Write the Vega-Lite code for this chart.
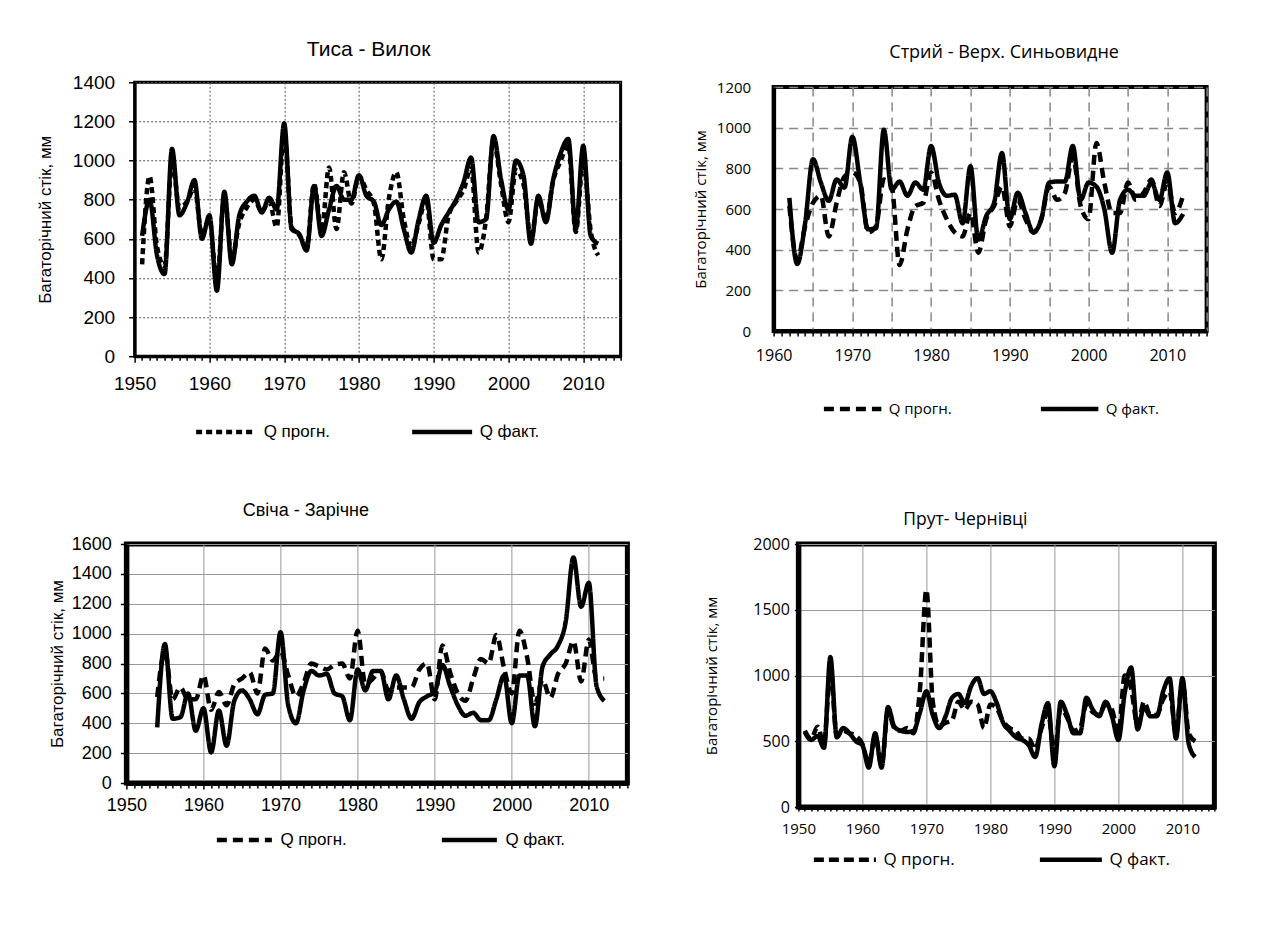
{
"$schema": "https://vega.github.io/schema/vega-lite/v6.json",
"background": "white",
"padding": {"left": 34, "top": 37, "right": 5, "bottom": 5},
"datasets": {
"tysa": [
{"year":1951,"series":"Q прогн.","value":470},{"year":1952,"series":"Q прогн.","value":920},{"year":1953,"series":"Q прогн.","value":560},{"year":1954,"series":"Q прогн.","value":460},{"year":1955,"series":"Q прогн.","value":1000},{"year":1956,"series":"Q прогн.","value":760},{"year":1957,"series":"Q прогн.","value":790},{"year":1958,"series":"Q прогн.","value":860},{"year":1959,"series":"Q прогн.","value":620},{"year":1960,"series":"Q прогн.","value":700},
{"year":1961,"series":"Q прогн.","value":380},{"year":1962,"series":"Q прогн.","value":820},{"year":1963,"series":"Q прогн.","value":500},{"year":1964,"series":"Q прогн.","value":680},{"year":1965,"series":"Q прогн.","value":760},{"year":1966,"series":"Q прогн.","value":800},{"year":1967,"series":"Q прогн.","value":740},{"year":1968,"series":"Q прогн.","value":790},{"year":1969,"series":"Q прогн.","value":660},{"year":1970,"series":"Q прогн.","value":1150},
{"year":1971,"series":"Q прогн.","value":660},{"year":1972,"series":"Q прогн.","value":620},{"year":1973,"series":"Q прогн.","value":560},{"year":1974,"series":"Q прогн.","value":880},{"year":1975,"series":"Q прогн.","value":640},{"year":1976,"series":"Q прогн.","value":965},{"year":1977,"series":"Q прогн.","value":650},{"year":1978,"series":"Q прогн.","value":940},{"year":1979,"series":"Q прогн.","value":780},{"year":1980,"series":"Q прогн.","value":920},
{"year":1981,"series":"Q прогн.","value":850},{"year":1982,"series":"Q прогн.","value":780},{"year":1983,"series":"Q прогн.","value":495},{"year":1984,"series":"Q прогн.","value":805},{"year":1985,"series":"Q прогн.","value":940},{"year":1986,"series":"Q прогн.","value":700},{"year":1987,"series":"Q прогн.","value":560},{"year":1988,"series":"Q прогн.","value":680},{"year":1989,"series":"Q прогн.","value":800},{"year":1990,"series":"Q прогн.","value":495},
{"year":1991,"series":"Q прогн.","value":495},{"year":1992,"series":"Q прогн.","value":720},{"year":1993,"series":"Q прогн.","value":790},{"year":1994,"series":"Q прогн.","value":850},{"year":1995,"series":"Q прогн.","value":960},{"year":1996,"series":"Q прогн.","value":530},{"year":1997,"series":"Q прогн.","value":700},{"year":1998,"series":"Q прогн.","value":1100},{"year":1999,"series":"Q прогн.","value":880},{"year":2000,"series":"Q прогн.","value":685},
{"year":2001,"series":"Q прогн.","value":950},{"year":2002,"series":"Q прогн.","value":880},{"year":2003,"series":"Q прогн.","value":600},{"year":2004,"series":"Q прогн.","value":800},{"year":2005,"series":"Q прогн.","value":700},{"year":2006,"series":"Q прогн.","value":900},{"year":2007,"series":"Q прогн.","value":1000},{"year":2008,"series":"Q прогн.","value":1080},{"year":2009,"series":"Q прогн.","value":635},{"year":2010,"series":"Q прогн.","value":1000},
{"year":2011,"series":"Q прогн.","value":640},{"year":2012,"series":"Q прогн.","value":515},
{"year":1951,"series":"Q факт.","value":615},{"year":1952,"series":"Q факт.","value":800},{"year":1953,"series":"Q факт.","value":515},{"year":1954,"series":"Q факт.","value":420},{"year":1955,"series":"Q факт.","value":1060},{"year":1956,"series":"Q факт.","value":720},{"year":1957,"series":"Q факт.","value":785},{"year":1958,"series":"Q факт.","value":900},{"year":1959,"series":"Q факт.","value":600},{"year":1960,"series":"Q факт.","value":720},
{"year":1961,"series":"Q факт.","value":335},{"year":1962,"series":"Q факт.","value":840},{"year":1963,"series":"Q факт.","value":470},{"year":1964,"series":"Q факт.","value":720},{"year":1965,"series":"Q факт.","value":790},{"year":1966,"series":"Q факт.","value":820},{"year":1967,"series":"Q факт.","value":735},{"year":1968,"series":"Q факт.","value":810},{"year":1969,"series":"Q факт.","value":750},{"year":1970,"series":"Q факт.","value":1190},
{"year":1971,"series":"Q факт.","value":650},{"year":1972,"series":"Q факт.","value":625},{"year":1973,"series":"Q факт.","value":540},{"year":1974,"series":"Q факт.","value":870},{"year":1975,"series":"Q факт.","value":615},{"year":1976,"series":"Q факт.","value":750},{"year":1977,"series":"Q факт.","value":870},{"year":1978,"series":"Q факт.","value":800},{"year":1979,"series":"Q факт.","value":800},{"year":1980,"series":"Q факт.","value":925},
{"year":1981,"series":"Q факт.","value":820},{"year":1982,"series":"Q факт.","value":790},{"year":1983,"series":"Q факт.","value":670},{"year":1984,"series":"Q факт.","value":750},{"year":1985,"series":"Q факт.","value":790},{"year":1986,"series":"Q факт.","value":650},{"year":1987,"series":"Q факт.","value":530},{"year":1988,"series":"Q факт.","value":700},{"year":1989,"series":"Q факт.","value":820},{"year":1990,"series":"Q факт.","value":580},
{"year":1991,"series":"Q факт.","value":670},{"year":1992,"series":"Q факт.","value":735},{"year":1993,"series":"Q факт.","value":800},{"year":1994,"series":"Q факт.","value":890},{"year":1995,"series":"Q факт.","value":1015},{"year":1996,"series":"Q факт.","value":685},{"year":1997,"series":"Q факт.","value":700},{"year":1998,"series":"Q факт.","value":1125},{"year":1999,"series":"Q факт.","value":905},{"year":2000,"series":"Q факт.","value":750},
{"year":2001,"series":"Q факт.","value":1000},{"year":2002,"series":"Q факт.","value":925},{"year":2003,"series":"Q факт.","value":575},{"year":2004,"series":"Q факт.","value":820},{"year":2005,"series":"Q факт.","value":685},{"year":2006,"series":"Q факт.","value":905},{"year":2007,"series":"Q факт.","value":1040},{"year":2008,"series":"Q факт.","value":1110},{"year":2009,"series":"Q факт.","value":650},{"year":2010,"series":"Q факт.","value":1075},
{"year":2011,"series":"Q факт.","value":615},{"year":2012,"series":"Q факт.","value":575}
],
"stryi": [
{"year":1962,"series":"Q прогн.","value":615},{"year":1963,"series":"Q прогн.","value":350},{"year":1964,"series":"Q прогн.","value":515},{"year":1965,"series":"Q прогн.","value":630},{"year":1966,"series":"Q прогн.","value":665},{"year":1967,"series":"Q прогн.","value":465},{"year":1968,"series":"Q прогн.","value":630},{"year":1969,"series":"Q прогн.","value":760},{"year":1970,"series":"Q прогн.","value":780},
{"year":1971,"series":"Q прогн.","value":730},{"year":1972,"series":"Q прогн.","value":485},{"year":1973,"series":"Q прогн.","value":515},{"year":1974,"series":"Q прогн.","value":745},{"year":1975,"series":"Q прогн.","value":710},{"year":1976,"series":"Q прогн.","value":325},{"year":1977,"series":"Q прогн.","value":500},{"year":1978,"series":"Q прогн.","value":615},{"year":1979,"series":"Q прогн.","value":630},{"year":1980,"series":"Q прогн.","value":780},
{"year":1981,"series":"Q прогн.","value":645},{"year":1982,"series":"Q прогн.","value":550},{"year":1983,"series":"Q прогн.","value":485},{"year":1984,"series":"Q прогн.","value":465},{"year":1985,"series":"Q прогн.","value":580},{"year":1986,"series":"Q прогн.","value":385},{"year":1987,"series":"Q прогн.","value":550},{"year":1988,"series":"Q прогн.","value":615},{"year":1989,"series":"Q прогн.","value":710},{"year":1990,"series":"Q прогн.","value":515},
{"year":1991,"series":"Q прогн.","value":645},{"year":1992,"series":"Q прогн.","value":550},{"year":1993,"series":"Q прогн.","value":485},{"year":1994,"series":"Q прогн.","value":550},{"year":1995,"series":"Q прогн.","value":710},{"year":1996,"series":"Q прогн.","value":645},{"year":1997,"series":"Q прогн.","value":680},{"year":1998,"series":"Q прогн.","value":860},{"year":1999,"series":"Q прогн.","value":615},{"year":2000,"series":"Q прогн.","value":550},
{"year":2001,"series":"Q прогн.","value":925},{"year":2002,"series":"Q прогн.","value":730},{"year":2003,"series":"Q прогн.","value":580},{"year":2004,"series":"Q прогн.","value":580},{"year":2005,"series":"Q прогн.","value":730},{"year":2006,"series":"Q прогн.","value":645},{"year":2007,"series":"Q прогн.","value":680},{"year":2008,"series":"Q прогн.","value":745},{"year":2009,"series":"Q прогн.","value":615},{"year":2010,"series":"Q прогн.","value":730},
{"year":2011,"series":"Q прогн.","value":580},{"year":2012,"series":"Q прогн.","value":665},
{"year":1962,"series":"Q факт.","value":655},{"year":1963,"series":"Q факт.","value":330},{"year":1964,"series":"Q факт.","value":530},{"year":1965,"series":"Q факт.","value":845},{"year":1966,"series":"Q факт.","value":730},{"year":1967,"series":"Q факт.","value":640},{"year":1968,"series":"Q факт.","value":745},{"year":1969,"series":"Q факт.","value":705},{"year":1970,"series":"Q факт.","value":955},
{"year":1971,"series":"Q факт.","value":730},{"year":1972,"series":"Q факт.","value":500},{"year":1973,"series":"Q факт.","value":505},{"year":1974,"series":"Q факт.","value":990},{"year":1975,"series":"Q факт.","value":695},{"year":1976,"series":"Q факт.","value":735},{"year":1977,"series":"Q факт.","value":665},{"year":1978,"series":"Q факт.","value":730},{"year":1979,"series":"Q факт.","value":695},{"year":1980,"series":"Q факт.","value":910},
{"year":1981,"series":"Q факт.","value":730},{"year":1982,"series":"Q факт.","value":665},{"year":1983,"series":"Q факт.","value":670},{"year":1984,"series":"Q факт.","value":530},{"year":1985,"series":"Q факт.","value":810},{"year":1986,"series":"Q факт.","value":450},{"year":1987,"series":"Q факт.","value":565},{"year":1988,"series":"Q факт.","value":630},{"year":1989,"series":"Q факт.","value":875},{"year":1990,"series":"Q факт.","value":550},
{"year":1991,"series":"Q факт.","value":680},{"year":1992,"series":"Q факт.","value":580},{"year":1993,"series":"Q факт.","value":485},{"year":1994,"series":"Q факт.","value":550},{"year":1995,"series":"Q факт.","value":730},{"year":1996,"series":"Q факт.","value":735},{"year":1997,"series":"Q факт.","value":735},{"year":1998,"series":"Q факт.","value":910},{"year":1999,"series":"Q факт.","value":645},{"year":2000,"series":"Q факт.","value":730},
{"year":2001,"series":"Q факт.","value":710},{"year":2002,"series":"Q факт.","value":600},{"year":2003,"series":"Q факт.","value":385},{"year":2004,"series":"Q факт.","value":645},{"year":2005,"series":"Q факт.","value":695},{"year":2006,"series":"Q факт.","value":665},{"year":2007,"series":"Q факт.","value":665},{"year":2008,"series":"Q факт.","value":730},{"year":2009,"series":"Q факт.","value":645},{"year":2010,"series":"Q факт.","value":780},
{"year":2011,"series":"Q факт.","value":530},{"year":2012,"series":"Q факт.","value":575}
],
"svicha": [
{"year":1954,"series":"Q прогн.","value":575},{"year":1955,"series":"Q прогн.","value":880},{"year":1956,"series":"Q прогн.","value":560},{"year":1957,"series":"Q прогн.","value":640},{"year":1958,"series":"Q прогн.","value":560},{"year":1959,"series":"Q прогн.","value":560},{"year":1960,"series":"Q прогн.","value":720},
{"year":1961,"series":"Q прогн.","value":490},{"year":1962,"series":"Q прогн.","value":610},{"year":1963,"series":"Q прогн.","value":520},{"year":1964,"series":"Q прогн.","value":660},{"year":1965,"series":"Q прогн.","value":700},{"year":1966,"series":"Q прогн.","value":740},{"year":1967,"series":"Q прогн.","value":600},{"year":1968,"series":"Q прогн.","value":900},{"year":1969,"series":"Q прогн.","value":820},{"year":1970,"series":"Q прогн.","value":880},
{"year":1971,"series":"Q прогн.","value":720},{"year":1972,"series":"Q прогн.","value":580},{"year":1973,"series":"Q прогн.","value":670},{"year":1974,"series":"Q прогн.","value":800},{"year":1975,"series":"Q прогн.","value":780},{"year":1976,"series":"Q прогн.","value":760},{"year":1977,"series":"Q прогн.","value":790},{"year":1978,"series":"Q прогн.","value":800},{"year":1979,"series":"Q прогн.","value":700},{"year":1980,"series":"Q прогн.","value":1020},
{"year":1981,"series":"Q прогн.","value":660},{"year":1982,"series":"Q прогн.","value":700},{"year":1983,"series":"Q прогн.","value":750},{"year":1984,"series":"Q прогн.","value":620},{"year":1985,"series":"Q прогн.","value":640},{"year":1986,"series":"Q прогн.","value":640},{"year":1987,"series":"Q прогн.","value":640},{"year":1988,"series":"Q прогн.","value":760},{"year":1989,"series":"Q прогн.","value":800},{"year":1990,"series":"Q прогн.","value":560},
{"year":1991,"series":"Q прогн.","value":920},{"year":1992,"series":"Q прогн.","value":740},{"year":1993,"series":"Q прогн.","value":600},{"year":1994,"series":"Q прогн.","value":550},{"year":1995,"series":"Q прогн.","value":700},{"year":1996,"series":"Q прогн.","value":830},{"year":1997,"series":"Q прогн.","value":800},{"year":1998,"series":"Q прогн.","value":990},{"year":1999,"series":"Q прогн.","value":770},{"year":2000,"series":"Q прогн.","value":600},
{"year":2001,"series":"Q прогн.","value":1020},{"year":2002,"series":"Q прогн.","value":840},{"year":2003,"series":"Q прогн.","value":530},{"year":2004,"series":"Q прогн.","value":690},{"year":2005,"series":"Q прогн.","value":570},{"year":2006,"series":"Q прогн.","value":730},{"year":2007,"series":"Q прогн.","value":800},{"year":2008,"series":"Q прогн.","value":950},{"year":2009,"series":"Q прогн.","value":680},{"year":2010,"series":"Q прогн.","value":960},
{"year":2011,"series":"Q прогн.","value":700},{"year":2012,"series":"Q прогн.","value":700},
{"year":1954,"series":"Q факт.","value":373},{"year":1955,"series":"Q факт.","value":930},{"year":1956,"series":"Q факт.","value":430},{"year":1957,"series":"Q факт.","value":440},{"year":1958,"series":"Q факт.","value":600},{"year":1959,"series":"Q факт.","value":350},{"year":1960,"series":"Q факт.","value":500},
{"year":1961,"series":"Q факт.","value":205},{"year":1962,"series":"Q факт.","value":485},{"year":1963,"series":"Q факт.","value":250},{"year":1964,"series":"Q факт.","value":550},{"year":1965,"series":"Q факт.","value":620},{"year":1966,"series":"Q факт.","value":560},{"year":1967,"series":"Q факт.","value":460},{"year":1968,"series":"Q факт.","value":590},{"year":1969,"series":"Q факт.","value":600},{"year":1970,"series":"Q факт.","value":1010},
{"year":1971,"series":"Q факт.","value":520},{"year":1972,"series":"Q факт.","value":400},{"year":1973,"series":"Q факт.","value":620},{"year":1974,"series":"Q факт.","value":750},{"year":1975,"series":"Q факт.","value":720},{"year":1976,"series":"Q факт.","value":730},{"year":1977,"series":"Q факт.","value":600},{"year":1978,"series":"Q факт.","value":580},{"year":1979,"series":"Q факт.","value":420},{"year":1980,"series":"Q факт.","value":760},
{"year":1981,"series":"Q факт.","value":620},{"year":1982,"series":"Q факт.","value":750},{"year":1983,"series":"Q факт.","value":750},{"year":1984,"series":"Q факт.","value":560},{"year":1985,"series":"Q факт.","value":720},{"year":1986,"series":"Q факт.","value":560},{"year":1987,"series":"Q факт.","value":430},{"year":1988,"series":"Q факт.","value":540},{"year":1989,"series":"Q факт.","value":580},{"year":1990,"series":"Q факт.","value":610},
{"year":1991,"series":"Q факт.","value":790},{"year":1992,"series":"Q факт.","value":650},{"year":1993,"series":"Q факт.","value":520},{"year":1994,"series":"Q факт.","value":450},{"year":1995,"series":"Q факт.","value":470},{"year":1996,"series":"Q факт.","value":420},{"year":1997,"series":"Q факт.","value":420},{"year":1998,"series":"Q факт.","value":560},{"year":1999,"series":"Q факт.","value":720},{"year":2000,"series":"Q факт.","value":400},
{"year":2001,"series":"Q факт.","value":720},{"year":2002,"series":"Q факт.","value":720},{"year":2003,"series":"Q факт.","value":380},{"year":2004,"series":"Q факт.","value":780},{"year":2005,"series":"Q факт.","value":860},{"year":2006,"series":"Q факт.","value":920},{"year":2007,"series":"Q факт.","value":1080},{"year":2008,"series":"Q факт.","value":1510},{"year":2009,"series":"Q факт.","value":1180},{"year":2010,"series":"Q факт.","value":1340},
{"year":2011,"series":"Q факт.","value":650},{"year":2012,"series":"Q факт.","value":550}
],
"prut": [
{"year":1951,"series":"Q прогн.","value":580},{"year":1952,"series":"Q прогн.","value":520},{"year":1953,"series":"Q прогн.","value":610},{"year":1954,"series":"Q прогн.","value":480},{"year":1955,"series":"Q прогн.","value":1050},{"year":1956,"series":"Q прогн.","value":540},{"year":1957,"series":"Q прогн.","value":580},{"year":1958,"series":"Q прогн.","value":560},{"year":1959,"series":"Q прогн.","value":540},{"year":1960,"series":"Q прогн.","value":480},
{"year":1961,"series":"Q прогн.","value":330},{"year":1962,"series":"Q прогн.","value":540},{"year":1963,"series":"Q прогн.","value":320},{"year":1964,"series":"Q прогн.","value":730},{"year":1965,"series":"Q прогн.","value":600},{"year":1966,"series":"Q прогн.","value":580},{"year":1967,"series":"Q прогн.","value":600},{"year":1968,"series":"Q прогн.","value":560},{"year":1969,"series":"Q прогн.","value":900},{"year":1970,"series":"Q прогн.","value":1650},
{"year":1971,"series":"Q прогн.","value":800},{"year":1972,"series":"Q прогн.","value":620},{"year":1973,"series":"Q прогн.","value":640},{"year":1974,"series":"Q прогн.","value":660},{"year":1975,"series":"Q прогн.","value":800},{"year":1976,"series":"Q прогн.","value":740},{"year":1977,"series":"Q прогн.","value":800},{"year":1978,"series":"Q прогн.","value":780},{"year":1979,"series":"Q прогн.","value":600},{"year":1980,"series":"Q прогн.","value":780},
{"year":1981,"series":"Q прогн.","value":750},{"year":1982,"series":"Q прогн.","value":650},{"year":1983,"series":"Q прогн.","value":600},{"year":1984,"series":"Q прогн.","value":580},{"year":1985,"series":"Q прогн.","value":520},{"year":1986,"series":"Q прогн.","value":520},{"year":1987,"series":"Q прогн.","value":440},{"year":1988,"series":"Q прогн.","value":600},{"year":1989,"series":"Q прогн.","value":720},{"year":1990,"series":"Q прогн.","value":400},
{"year":1991,"series":"Q прогн.","value":760},{"year":1992,"series":"Q прогн.","value":680},{"year":1993,"series":"Q прогн.","value":580},{"year":1994,"series":"Q прогн.","value":600},{"year":1995,"series":"Q прогн.","value":780},{"year":1996,"series":"Q прогн.","value":720},{"year":1997,"series":"Q прогн.","value":700},{"year":1998,"series":"Q прогн.","value":780},{"year":1999,"series":"Q прогн.","value":740},{"year":2000,"series":"Q прогн.","value":560},
{"year":2001,"series":"Q прогн.","value":1000},{"year":2002,"series":"Q прогн.","value":900},{"year":2003,"series":"Q прогн.","value":620},{"year":2004,"series":"Q прогн.","value":800},{"year":2005,"series":"Q прогн.","value":700},{"year":2006,"series":"Q прогн.","value":700},{"year":2007,"series":"Q прогн.","value":820},{"year":2008,"series":"Q прогн.","value":880},{"year":2009,"series":"Q прогн.","value":560},{"year":2010,"series":"Q прогн.","value":960},
{"year":2011,"series":"Q прогн.","value":560},{"year":2012,"series":"Q прогн.","value":500},
{"year":1951,"series":"Q факт.","value":570},{"year":1952,"series":"Q факт.","value":510},{"year":1953,"series":"Q факт.","value":540},{"year":1954,"series":"Q факт.","value":450},{"year":1955,"series":"Q факт.","value":1140},{"year":1956,"series":"Q факт.","value":530},{"year":1957,"series":"Q факт.","value":600},{"year":1958,"series":"Q факт.","value":560},{"year":1959,"series":"Q факт.","value":500},{"year":1960,"series":"Q факт.","value":470},
{"year":1961,"series":"Q факт.","value":300},{"year":1962,"series":"Q факт.","value":560},{"year":1963,"series":"Q факт.","value":300},{"year":1964,"series":"Q факт.","value":760},{"year":1965,"series":"Q факт.","value":610},{"year":1966,"series":"Q факт.","value":580},{"year":1967,"series":"Q факт.","value":570},{"year":1968,"series":"Q факт.","value":580},{"year":1969,"series":"Q факт.","value":720},{"year":1970,"series":"Q факт.","value":880},
{"year":1971,"series":"Q факт.","value":700},{"year":1972,"series":"Q факт.","value":600},{"year":1973,"series":"Q факт.","value":690},{"year":1974,"series":"Q факт.","value":830},{"year":1975,"series":"Q факт.","value":860},{"year":1976,"series":"Q факт.","value":790},{"year":1977,"series":"Q факт.","value":920},{"year":1978,"series":"Q факт.","value":980},{"year":1979,"series":"Q факт.","value":860},{"year":1980,"series":"Q факт.","value":880},
{"year":1981,"series":"Q факт.","value":790},{"year":1982,"series":"Q факт.","value":640},{"year":1983,"series":"Q факт.","value":580},{"year":1984,"series":"Q факт.","value":530},{"year":1985,"series":"Q факт.","value":510},{"year":1986,"series":"Q факт.","value":470},{"year":1987,"series":"Q факт.","value":380},{"year":1988,"series":"Q факт.","value":630},{"year":1989,"series":"Q факт.","value":790},{"year":1990,"series":"Q факт.","value":310},
{"year":1991,"series":"Q факт.","value":800},{"year":1992,"series":"Q факт.","value":700},{"year":1993,"series":"Q факт.","value":560},{"year":1994,"series":"Q факт.","value":560},{"year":1995,"series":"Q факт.","value":830},{"year":1996,"series":"Q факт.","value":740},{"year":1997,"series":"Q факт.","value":690},{"year":1998,"series":"Q факт.","value":800},{"year":1999,"series":"Q факт.","value":690},{"year":2000,"series":"Q факт.","value":510},
{"year":2001,"series":"Q факт.","value":870},{"year":2002,"series":"Q факт.","value":1060},{"year":2003,"series":"Q факт.","value":590},{"year":2004,"series":"Q факт.","value":760},{"year":2005,"series":"Q факт.","value":690},{"year":2006,"series":"Q факт.","value":690},{"year":2007,"series":"Q факт.","value":880},{"year":2008,"series":"Q факт.","value":980},{"year":2009,"series":"Q факт.","value":520},{"year":2010,"series":"Q факт.","value":980},
{"year":2011,"series":"Q факт.","value":480},{"year":2012,"series":"Q факт.","value":380}
]
},
"spacing": 56,
"center": true,
"resolve": {"scale": {"strokeDash": "independent"}, "legend": {"strokeDash": "independent"}},
"vconcat": [
{
"spacing": 67,
"center": true,
"resolve": {"scale": {"strokeDash": "independent"}, "legend": {"strokeDash": "independent"}},
"hconcat": [
{
"width": 486, "height": 274,
"data": {"name": "tysa"},
"title": {"text": "Тиса - Вилок", "font": "Liberation Sans", "fontSize": 21, "offset": 13, "dx": -9},
"view": {"stroke": "black", "strokeWidth": 3},
"mark": {"type": "line", "interpolate": "monotone", "strokeWidth": 4.5, "color": "black"},
"encoding": {
"x": {"field": "year", "type": "quantitative", "scale": {"domain": [1950, 2015], "nice": false, "zero": false},
"axis": {"title": null, "values": [1950,1951,1952,1953,1954,1955,1956,1957,1958,1959,1960,1961,1962,1963,1964,1965,1966,1967,1968,1969,1970,1971,1972,1973,1974,1975,1976,1977,1978,1979,1980,1981,1982,1983,1984,1985,1986,1987,1988,1989,1990,1991,1992,1993,1994,1995,1996,1997,1998,1999,2000,2001,2002,2003,2004,2005,2006,2007,2008,2009,2010,2011,2012,2013,2014,2015],
"format": "d", "labelExpr": "datum.value % 10 === 0 && datum.value < 2015 ? datum.label : ''",
"labelFont": "Liberation Sans", "labelFontSize": 19, "labelPadding": 12, "labelFlush": false, "labelOverlap": false,
"tickSize": {"condition": {"test": "datum.value % 10 === 0", "value": 6}, "value": 4},
"gridOpacity": {"condition": {"test": "datum.value % 10 === 0", "value": 1}, "value": 0},
"gridDash": [2, 2], "gridColor": "#555", "domainWidth": 3}},
"y": {"field": "value", "type": "quantitative", "scale": {"domain": [0, 1400], "nice": false},
"axis": {"title": "Багаторічний стік, мм", "titleFont": "Liberation Sans", "titleFontSize": 17, "titlePadding": 18,
"values": [0,200,400,600,800,1000,1200,1400], "format": "d", "labelFont": "Liberation Sans", "labelFontSize": 19, "labelPadding": 14, "tickSize": 6,
"gridDash": [2, 2], "gridColor": "#555", "domainWidth": 3}},
"strokeDash": {"field": "series", "type": "nominal", "scale": {"domain": ["Q прогн.", "Q факт."], "range": [[6, 4], [1, 0]]},
"legend": {"orient": "none", "legendX": 59, "legendY": 317, "direction": "horizontal", "title": null, "symbolType": "stroke", "symbolSize": 3600, "symbolStrokeWidth": 4.5, "symbolStrokeColor": "black", "labelFont": "Liberation Sans", "labelFontSize": 17, "columnPadding": 72, "labelOffset": 5}}
}
},
{
"width": 433, "height": 244,
"data": {"name": "stryi"},
"title": {"text": "Стрий - Верх. Синьовидне", "font": "Open Sans", "fontSize": 18, "offset": 18, "dx": 14},
"view": {"stroke": "black", "strokeWidth": 4},
"mark": {"type": "line", "interpolate": "monotone", "strokeWidth": 4.5, "color": "black"},
"encoding": {
"x": {"field": "year", "type": "quantitative", "scale": {"domain": [1960, 2015], "nice": false, "zero": false},
"axis": {"title": null, "values": [1960,1961,1962,1963,1964,1965,1966,1967,1968,1969,1970,1971,1972,1973,1974,1975,1976,1977,1978,1979,1980,1981,1982,1983,1984,1985,1986,1987,1988,1989,1990,1991,1992,1993,1994,1995,1996,1997,1998,1999,2000,2001,2002,2003,2004,2005,2006,2007,2008,2009,2010,2011,2012,2013,2014,2015],
"format": "d", "labelExpr": "datum.value % 10 === 0 && datum.value < 2015 ? datum.label : ''",
"labelFont": "Open Sans", "labelFontSize": 16, "labelPadding": 11, "labelFlush": false, "labelOverlap": false,
"tickSize": 5,
"gridOpacity": {"condition": {"test": "datum.value % 5 === 0", "value": 1}, "value": 0},
"gridDash": [9, 6], "gridColor": "#888", "gridWidth": 1.5, "domainWidth": 4}},
"y": {"field": "value", "type": "quantitative", "scale": {"domain": [0, 1200], "nice": false},
"axis": {"title": "Багаторічний стік, мм", "titleFont": "Open Sans", "titleFontSize": 15, "titlePadding": 8,
"values": [0,200,400,600,800,1000,1200], "format": "d", "labelFont": "Open Sans", "labelFontSize": 15, "labelPadding": 23, "tickSize": 0,
"gridDash": [9, 6], "gridColor": "#888", "gridWidth": 1.5, "domainWidth": 4}},
"strokeDash": {"field": "series", "type": "nominal", "scale": {"domain": ["Q прогн.", "Q факт."], "range": [[10, 6], [1, 0]]},
"legend": {"orient": "none", "legendX": 30, "legendY": 273, "padding": 18, "direction": "horizontal", "title": null, "symbolType": "stroke", "symbolSize": 3300, "symbolStrokeWidth": 4.5, "symbolStrokeColor": "black", "labelFont": "Open Sans", "labelFontSize": 15, "columnPadding": 80, "labelOffset": 5}}
}
}
]
},
{
"spacing": 70,
"resolve": {"scale": {"strokeDash": "independent"}, "legend": {"strokeDash": "independent"}},
"hconcat": [
{
"width": 501, "height": 239,
"data": {"name": "svicha"},
"title": {"text": "Свіча - Зарічне", "font": "Liberation Sans", "fontSize": 18, "offset": 15, "dx": -71},
"view": {"stroke": "black", "strokeWidth": 5},
"mark": {"type": "line", "interpolate": "monotone", "strokeWidth": 4.5, "color": "black"},
"encoding": {
"x": {"field": "year", "type": "quantitative", "scale": {"domain": [1950, 2015], "nice": false, "zero": false},
"axis": {"title": null, "values": [1950,1951,1952,1953,1954,1955,1956,1957,1958,1959,1960,1961,1962,1963,1964,1965,1966,1967,1968,1969,1970,1971,1972,1973,1974,1975,1976,1977,1978,1979,1980,1981,1982,1983,1984,1985,1986,1987,1988,1989,1990,1991,1992,1993,1994,1995,1996,1997,1998,1999,2000,2001,2002,2003,2004,2005,2006,2007,2008,2009,2010,2011,2012,2013,2014,2015],
"format": "d", "labelExpr": "datum.value % 10 === 0 && datum.value < 2015 ? datum.label : ''",
"labelFont": "Liberation Sans", "labelFontSize": 18, "labelPadding": 7, "labelFlush": false, "labelOverlap": false,
"tickSize": {"condition": {"test": "datum.value % 10 === 0", "value": 6}, "value": 5},
"gridOpacity": {"condition": {"test": "datum.value % 10 === 0", "value": 1}, "value": 0},
"gridColor": "#999", "gridWidth": 1, "domainWidth": 5}},
"y": {"field": "value", "type": "quantitative", "scale": {"domain": [0, 1600], "nice": false},
"axis": {"title": "Багаторічний стік, мм", "titleFont": "Liberation Sans", "titleFontSize": 17, "titlePadding": 5,
"values": [0,200,400,600,800,1000,1200,1400,1600], "format": "d", "labelFont": "Liberation Sans", "labelFontSize": 18, "labelPadding": 9, "tickSize": 6,
"gridColor": "#999", "gridWidth": 1, "domainWidth": 5}},
"strokeDash": {"field": "series", "type": "nominal", "scale": {"domain": ["Q прогн.", "Q факт."], "range": [[10, 6], [1, 0]]},
"legend": {"orient": "none", "legendX": 88, "legendY": 266, "direction": "horizontal", "title": null, "symbolType": "stroke", "symbolSize": 3025, "symbolStrokeWidth": 4.5, "symbolStrokeColor": "black", "labelFont": "Liberation Sans", "labelFontSize": 17, "columnPadding": 85, "labelOffset": 6}}
}
},
{
"width": 416, "height": 263,
"data": {"name": "prut"},
"title": {"text": "Прут- Чернівці", "font": "Open Sans", "fontSize": 17.5, "offset": 8, "dx": -41},
"view": {"stroke": "black", "strokeWidth": 5},
"mark": {"type": "line", "interpolate": "monotone", "strokeWidth": 4.5, "color": "black"},
"encoding": {
"x": {"field": "year", "type": "quantitative", "scale": {"domain": [1950, 2015], "nice": false, "zero": false},
"axis": {"title": null, "values": [1950,1951,1952,1953,1954,1955,1956,1957,1958,1959,1960,1961,1962,1963,1964,1965,1966,1967,1968,1969,1970,1971,1972,1973,1974,1975,1976,1977,1978,1979,1980,1981,1982,1983,1984,1985,1986,1987,1988,1989,1990,1991,1992,1993,1994,1995,1996,1997,1998,1999,2000,2001,2002,2003,2004,2005,2006,2007,2008,2009,2010,2011,2012,2013,2014,2015],
"format": "d", "labelExpr": "datum.value % 10 === 0 && datum.value < 2015 ? datum.label : ''",
"labelFont": "Open Sans", "labelFontSize": 15, "labelPadding": 10, "labelFlush": false, "labelOverlap": false,
"tickSize": 4,
"gridOpacity": {"condition": {"test": "datum.value % 10 === 0", "value": 1}, "value": 0},
"gridColor": "#999", "gridWidth": 1, "domainWidth": 5}},
"y": {"field": "value", "type": "quantitative", "scale": {"domain": [0, 2000], "nice": false},
"axis": {"title": "Багаторічний стік, мм", "titleFont": "Open Sans", "titleFontSize": 15, "titlePadding": 33,
"values": [0,500,1000,1500,2000], "format": "d", "labelFont": "Open Sans", "labelFontSize": 16, "labelPadding": 5, "tickSize": 4,
"gridColor": "#999", "gridWidth": 1, "domainWidth": 5}},
"strokeDash": {"field": "series", "type": "nominal", "scale": {"domain": ["Q прогн.", "Q факт."], "range": [[10, 5], [1, 0]]},
"legend": {"orient": "none", "legendX": 13, "legendY": 282, "direction": "horizontal", "title": null, "symbolType": "stroke", "symbolSize": 3844, "symbolStrokeWidth": 4.5, "symbolStrokeColor": "black", "labelFont": "Open Sans", "labelFontSize": 17, "columnPadding": 75, "labelOffset": 5}}
}
}
]
}
],
"config": {
"font": "Liberation Sans",
"axis": {"labelColor": "black", "titleColor": "black", "domainColor": "black", "tickColor": "black", "titleFontWeight": "normal", "tickWidth": 1.5},
"title": {"color": "black", "fontWeight": "normal", "anchor": "middle"},
"legend": {"labelColor": "black"}
}
}
